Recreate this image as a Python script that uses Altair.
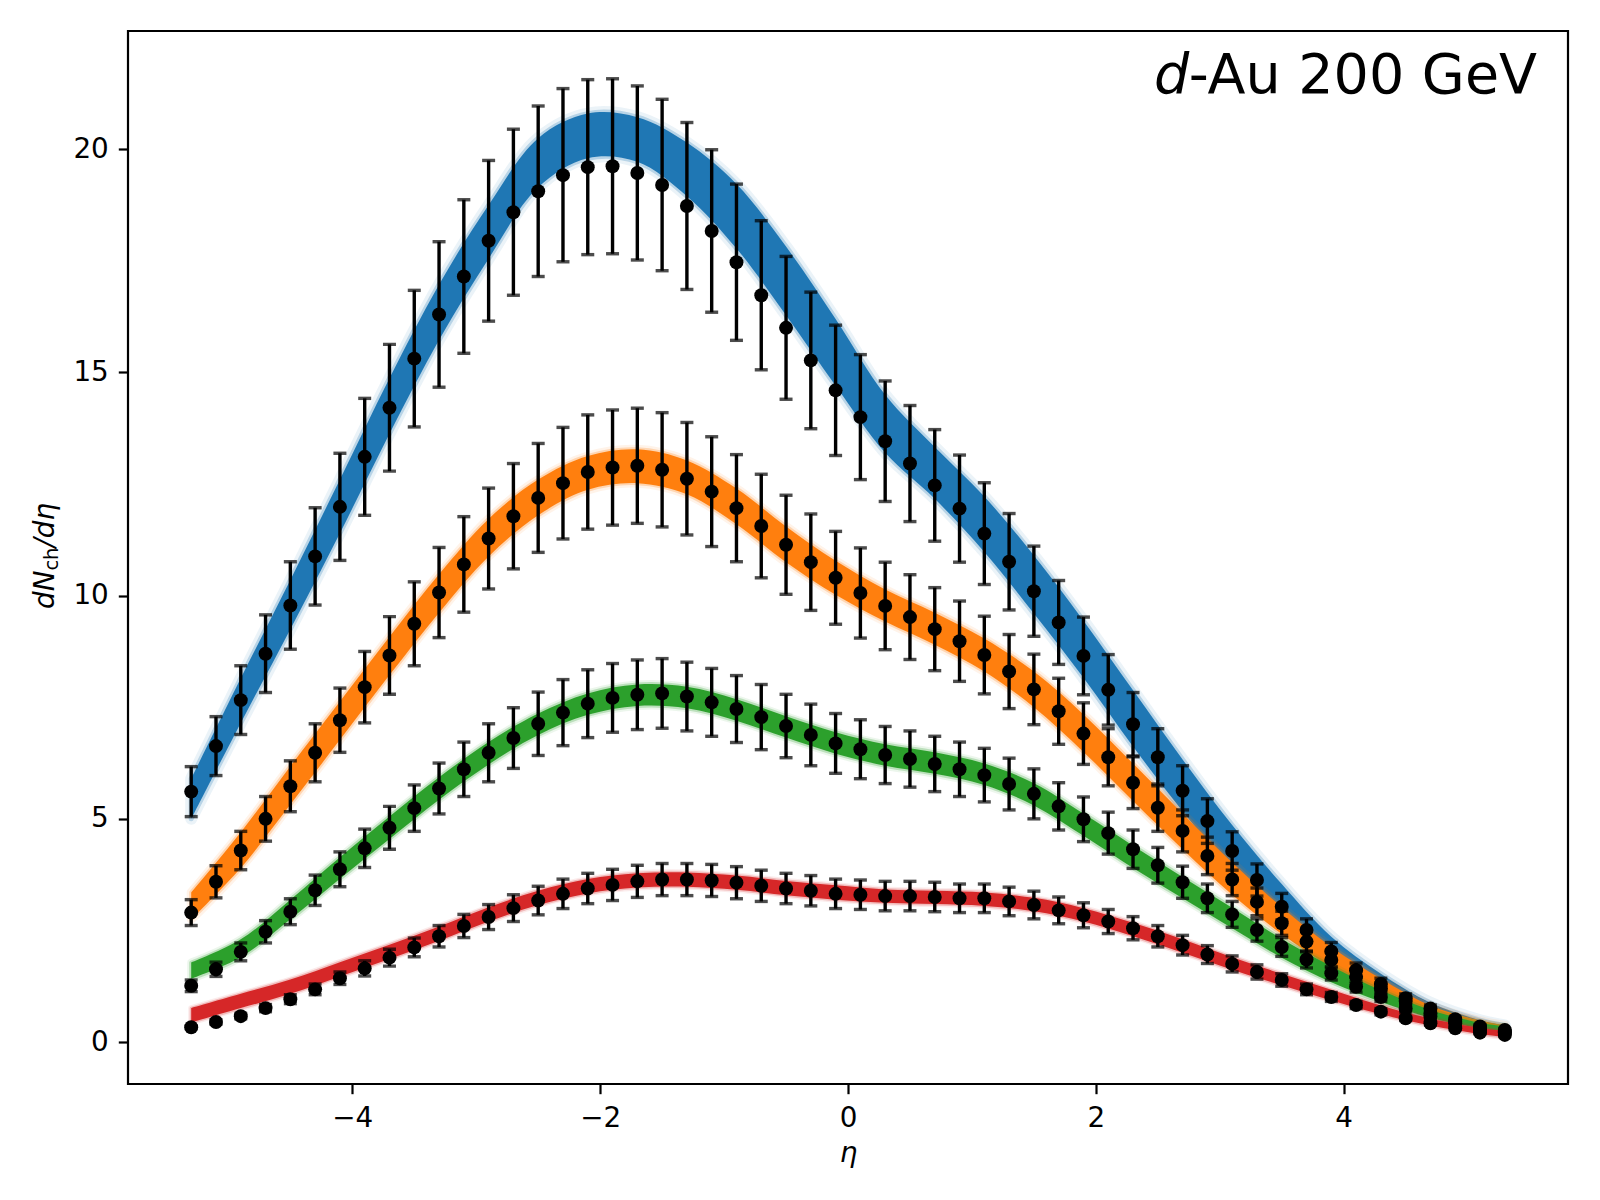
import altair as alt
import pandas as pd

# ---------------- data ----------------
ETA = [-5.3, -5.1, -4.9, -4.7, -4.5, -4.3, -4.1, -3.9, -3.7, -3.5,
       -3.3, -3.1, -2.9, -2.7, -2.5, -2.3, -2.1, -1.9, -1.7, -1.5,
       -1.3, -1.1, -0.9, -0.7, -0.5, -0.3, -0.1, 0.1, 0.3, 0.5,
       0.7, 0.9, 1.1, 1.3, 1.5, 1.7, 1.9, 2.1, 2.3, 2.5,
       2.7, 2.9, 3.1, 3.3, 3.5, 3.7, 3.9, 4.1, 4.3, 4.5,
       4.7, 4.9, 5.1, 5.3]

BLUE = [5.61, 6.63, 7.66, 8.70, 9.78, 10.88, 11.99, 13.11, 14.21, 15.31,
        16.30, 17.15, 17.95, 18.59, 19.06, 19.42, 19.60, 19.62, 19.47, 19.20,
        18.73, 18.17, 17.47, 16.73, 16.00, 15.27, 14.60, 14.00, 13.46, 12.96,
        12.47, 11.95, 11.39, 10.76, 10.10, 9.40, 8.65, 7.89, 7.12, 6.38,
        5.63, 4.95, 4.28, 3.63, 3.03, 2.51, 2.03, 1.61, 1.30, 0.98,
        0.75, 0.51, 0.35, 0.27]
BLUE_ERR = [0.56, 0.66, 0.77, 0.87, 0.98, 1.09, 1.20, 1.31, 1.42, 1.53,
            1.63, 1.72, 1.80, 1.86, 1.91, 1.94, 1.96, 1.96, 1.95, 1.92,
            1.87, 1.82, 1.75, 1.67, 1.60, 1.53, 1.46, 1.40, 1.35, 1.30,
            1.25, 1.20, 1.14, 1.08, 1.01, 0.94, 0.87, 0.79, 0.71, 0.64,
            0.56, 0.50, 0.43, 0.36, 0.30, 0.25, 0.20, 0.16, 0.13, 0.10,
            0.08, 0.05, 0.04, 0.03]

ORANGE = [2.90, 3.59, 4.29, 5.00, 5.73, 6.48, 7.21, 7.95, 8.66, 9.37,
          10.07, 10.70, 11.28, 11.78, 12.19, 12.52, 12.77, 12.87, 12.91, 12.82,
          12.62, 12.33, 11.96, 11.56, 11.14, 10.75, 10.40, 10.06, 9.77, 9.52,
          9.25, 8.98, 8.67, 8.30, 7.90, 7.41, 6.91, 6.38, 5.81, 5.25,
          4.73, 4.17, 3.64, 3.14, 2.66, 2.25, 1.84, 1.46, 1.20, 0.92,
          0.64, 0.47, 0.31, 0.23]
ORANGE_ERR = [0.29, 0.36, 0.43, 0.50, 0.57, 0.65, 0.72, 0.80, 0.87, 0.94,
              1.01, 1.07, 1.13, 1.18, 1.22, 1.25, 1.28, 1.29, 1.29, 1.28,
              1.26, 1.23, 1.20, 1.16, 1.11, 1.08, 1.04, 1.01, 0.98, 0.95,
              0.93, 0.90, 0.87, 0.83, 0.79, 0.74, 0.69, 0.64, 0.58, 0.53,
              0.47, 0.42, 0.36, 0.31, 0.27, 0.23, 0.18, 0.15, 0.12, 0.09,
              0.06, 0.05, 0.03, 0.02]

GREEN = [1.26, 1.63, 2.02, 2.47, 2.92, 3.40, 3.87, 4.34, 4.80, 5.24,
         5.68, 6.11, 6.48, 6.81, 7.13, 7.38, 7.58, 7.71, 7.78, 7.81,
         7.74, 7.61, 7.46, 7.28, 7.08, 6.88, 6.69, 6.56, 6.43, 6.34,
         6.23, 6.11, 5.98, 5.78, 5.56, 5.28, 4.99, 4.68, 4.32, 3.96,
         3.58, 3.22, 2.86, 2.51, 2.13, 1.85, 1.54, 1.24, 1.01, 0.75,
         0.57, 0.42, 0.27, 0.21]
GREEN_ERR = [0.13, 0.16, 0.20, 0.25, 0.29, 0.34, 0.39, 0.43, 0.48, 0.52,
             0.57, 0.61, 0.65, 0.68, 0.71, 0.74, 0.76, 0.77, 0.78, 0.78,
             0.77, 0.76, 0.75, 0.73, 0.71, 0.69, 0.67, 0.66, 0.64, 0.63,
             0.62, 0.61, 0.60, 0.58, 0.56, 0.53, 0.50, 0.47, 0.43, 0.40,
             0.36, 0.32, 0.29, 0.25, 0.21, 0.19, 0.15, 0.12, 0.10, 0.08,
             0.06, 0.04, 0.03, 0.02]

RED = [0.33, 0.45, 0.58, 0.76, 0.96, 1.18, 1.43, 1.65, 1.89, 2.12,
       2.37, 2.60, 2.80, 3.00, 3.17, 3.32, 3.44, 3.52, 3.60, 3.64,
       3.64, 3.62, 3.57, 3.50, 3.44, 3.39, 3.32, 3.30, 3.27, 3.27,
       3.25, 3.22, 3.22, 3.15, 3.07, 2.95, 2.84, 2.70, 2.55, 2.37,
       2.17, 1.96, 1.75, 1.57, 1.39, 1.18, 1.01, 0.83, 0.68, 0.53,
       0.42, 0.31, 0.21, 0.16]
RED_ERR = [0.03, 0.05, 0.06, 0.08, 0.10, 0.12, 0.14, 0.17, 0.19, 0.21,
           0.24, 0.26, 0.28, 0.30, 0.32, 0.33, 0.34, 0.35, 0.36, 0.36,
           0.36, 0.36, 0.36, 0.35, 0.34, 0.34, 0.33, 0.33, 0.33, 0.33,
           0.33, 0.32, 0.32, 0.32, 0.31, 0.30, 0.28, 0.27, 0.26, 0.24,
           0.22, 0.20, 0.18, 0.16, 0.14, 0.12, 0.10, 0.08, 0.07, 0.05,
           0.04, 0.03, 0.02, 0.02]

# model bands (lower / upper edge) read on a coarser eta grid
BAND_ETA = [-5.3, -4.9, -4.5, -4.1, -3.7, -3.3, -2.9, -2.5, -2.1, -1.7,
            -1.3, -0.9, -0.5, -0.1, 0.3, 0.7, 1.1, 1.5, 1.9, 2.3,
            2.7, 3.1, 3.5, 3.9, 4.3, 4.7, 5.1, 5.3]

BLUE_LO = [5.00, 7.15, 9.25, 11.40, 13.63, 15.73, 17.55, 19.15, 19.80, 19.72,
           18.95, 17.78, 16.28, 14.70, 13.20, 12.17, 10.98, 9.60, 8.16, 6.62,
           5.17, 3.84, 2.66, 1.68, 1.07, 0.60, 0.31, 0.23]
BLUE_HI = [5.90, 8.15, 10.35, 12.60, 14.87, 16.97, 18.75, 20.25, 20.80, 20.72,
           20.15, 19.22, 17.82, 16.20, 14.50, 13.33, 12.22, 10.90, 9.44, 7.88,
           6.33, 4.86, 3.54, 2.36, 1.53, 0.88, 0.49, 0.37]

ORANGE_LO = [2.75, 3.90, 5.32, 6.77, 8.22, 9.62, 10.88, 11.80, 12.37, 12.52,
             12.27, 11.60, 10.75, 10.02, 9.42, 8.90, 8.30, 7.50, 6.50, 5.40,
             4.32, 3.30, 2.42, 1.67, 1.08, 0.62, 0.34, 0.25]
ORANGE_HI = [3.35, 4.70, 6.18, 7.63, 9.08, 10.48, 11.72, 12.60, 13.13, 13.28,
             13.03, 12.40, 11.55, 10.78, 10.14, 9.62, 9.04, 8.30, 7.34, 6.24,
             5.12, 4.02, 3.02, 2.13, 1.42, 0.82, 0.48, 0.37]

GREEN_LO = [1.42, 1.90, 2.75, 3.66, 4.55, 5.43, 6.22, 6.88, 7.33, 7.53,
            7.48, 7.20, 6.82, 6.46, 6.19, 6.01, 5.76, 5.30, 4.62, 3.90,
            3.22, 2.55, 1.89, 1.34, 0.90, 0.54, 0.31, 0.23]
GREEN_HI = [1.78, 2.30, 3.19, 4.14, 5.05, 5.93, 6.72, 7.36, 7.81, 8.01,
            7.96, 7.68, 7.30, 6.94, 6.67, 6.49, 6.24, 5.80, 5.12, 4.40,
            3.70, 3.01, 2.31, 1.70, 1.16, 0.72, 0.43, 0.35]

RED_LO = [0.44, 0.76, 1.08, 1.47, 1.86, 2.27, 2.70, 3.07, 3.33, 3.46,
          3.48, 3.41, 3.29, 3.19, 3.12, 3.09, 3.05, 2.93, 2.70, 2.37,
          2.00, 1.62, 1.27, 0.93, 0.62, 0.37, 0.18, 0.11]
RED_HI = [0.76, 1.08, 1.40, 1.79, 2.18, 2.59, 3.02, 3.39, 3.65, 3.78,
          3.80, 3.73, 3.61, 3.51, 3.42, 3.39, 3.35, 3.23, 3.00, 2.67,
          2.30, 1.90, 1.53, 1.17, 0.82, 0.53, 0.32, 0.25]

SERIES = ["blue", "orange", "green", "red"]
COLORS = ["#1f77b4", "#ff7f0e", "#2ca02c", "#d62728"]
POINTS = [BLUE, ORANGE, GREEN, RED]
ERRORS = [BLUE_ERR, ORANGE_ERR, GREEN_ERR, RED_ERR]
BANDS_LO = [BLUE_LO, ORANGE_LO, GREEN_LO, RED_LO]
BANDS_HI = [BLUE_HI, ORANGE_HI, GREEN_HI, RED_HI]
FRINGE = [(12, 0.09, 5, 0.25), (9, 0.09, 4, 0.25), (8, 0.09, 4, 0.25), (6, 0.09, 3, 0.25)]

X_TICKS = [-4, -2, 0, 2, 4]
Y_TICKS = [0, 5, 10, 15, 20]
X_DOMAIN = [-5.81, 5.81]
Y_DOMAIN = [-0.94, 22.65]

FONT = "DejaVu Sans"
W, H = 1440, 1053

# ---------------- tables ----------------
for arr in POINTS + ERRORS:
    assert len(arr) == len(ETA)
for arr in BANDS_LO + BANDS_HI:
    assert len(arr) == len(BAND_ETA)

rows = []
for name, vals, errs in zip(SERIES, POINTS, ERRORS):
    for e, v, s in zip(ETA, vals, errs):
        rows.append({"series": name, "eta": e, "val": v, "lo": v - s, "hi": v + s})
pts = pd.DataFrame(rows)

x_axis = alt.Axis(values=X_TICKS, labelExpr="replace(datum.label, '-', '\u2212')",
                  grid=False, domain=False, ticks=True, tickColor="black",
                  tickWidth=2.2, tickSize=9.7, labelFont=FONT, labelFontSize=27.8,
                  labelColor="black", labelPadding=11, labelFlush=False,
                  title="\u03b7", titleFont=FONT, titleFontSize=27.8,
                  titleFontStyle="italic", titleFontWeight="normal",
                  titleColor="black", titlePadding=7)
y_axis = alt.Axis(values=Y_TICKS, grid=False, domain=False, ticks=True,
                  tickColor="black", tickWidth=2.2, tickSize=9.7, labelFont=FONT,
                  labelFontSize=27.8, labelColor="black", labelPadding=10,
                  title=None)

xs = alt.Scale(domain=X_DOMAIN, nice=False, zero=False)
ys = alt.Scale(domain=Y_DOMAIN, nice=False, zero=False)


def X(field):
    return alt.X(field, type="quantitative", scale=xs, axis=x_axis)


def Y(field):
    return alt.Y(field, type="quantitative", scale=ys, axis=y_axis)


INTERP = "catmull-rom"
layers = []
for name, color, lo, hi, fr in zip(SERIES, COLORS, BANDS_LO, BANDS_HI, FRINGE):
    d = pd.DataFrame({"eta": BAND_ETA, "lo": lo, "hi": hi})
    base = alt.Chart(d)
    wide = base.mark_area(interpolate=INTERP, fillOpacity=0, stroke=color,
                          strokeWidth=fr[0], strokeOpacity=fr[1], strokeJoin="round").encode(
        x=X("eta"), y=Y("lo"), y2="hi")
    narrow = base.mark_area(interpolate=INTERP, fillOpacity=0, stroke=color,
                            strokeWidth=fr[2], strokeOpacity=fr[3], strokeJoin="round").encode(
        x=X("eta"), y=Y("lo"), y2="hi")
    core = base.mark_area(interpolate=INTERP, color=color, opacity=1).encode(
        x=X("eta"), y=Y("lo"), y2="hi")
    layers += [wide, narrow, core]

pbase = alt.Chart(pts)
bars = pbase.mark_rule(color="black", strokeWidth=3.4).encode(x=X("eta"), y=Y("lo"), y2="hi")
cap_lo = pbase.mark_tick(color="black", orient="horizontal", size=13, thickness=3.4).encode(
    x=X("eta"), y=Y("lo"))
cap_hi = pbase.mark_tick(color="black", orient="horizontal", size=13, thickness=3.4).encode(
    x=X("eta"), y=Y("hi"))
dots = pbase.mark_circle(color="black", size=195, opacity=1).encode(x=X("eta"), y=Y("val"))
layers += [bars, cap_lo, cap_hi, dots]

one = pd.DataFrame({"k": [0]})


def label(text, x, y, size, style="normal", align="left", angle=0):
    return alt.Chart(one).mark_text(text=text, font=FONT, fontSize=size, fontStyle=style,
                                    align=align, baseline="alphabetic", angle=angle,
                                    color="black").encode(x=alt.value(x), y=alt.value(y))


# annotation in the upper right
layers.append(label("d", 1026, 62, 55.5, "italic"))
layers.append(label("-Au 200 GeV", 1409, 62, 55.5, align="right"))
# y-axis title  dN_ch/dη
layers.append(label("dN", -74, 578, 27.8, "italic", angle=270))
layers.append(label("ch", -70, 539.6, 19.5, angle=270))
layers.append(label("/d\u03b7", -74, 516.5, 27.8, "italic", angle=270))

chart = alt.layer(*layers).properties(
    width=W, height=H,
    autosize=alt.AutoSizeParams(type="none"),
    padding={"left": 120, "top": 23, "right": 24, "bottom": 100},
    background="white",
).configure_view(stroke="black", strokeWidth=2.2)

chart.save("out.html", embed_options={"renderer": "svg", "actions": False})
